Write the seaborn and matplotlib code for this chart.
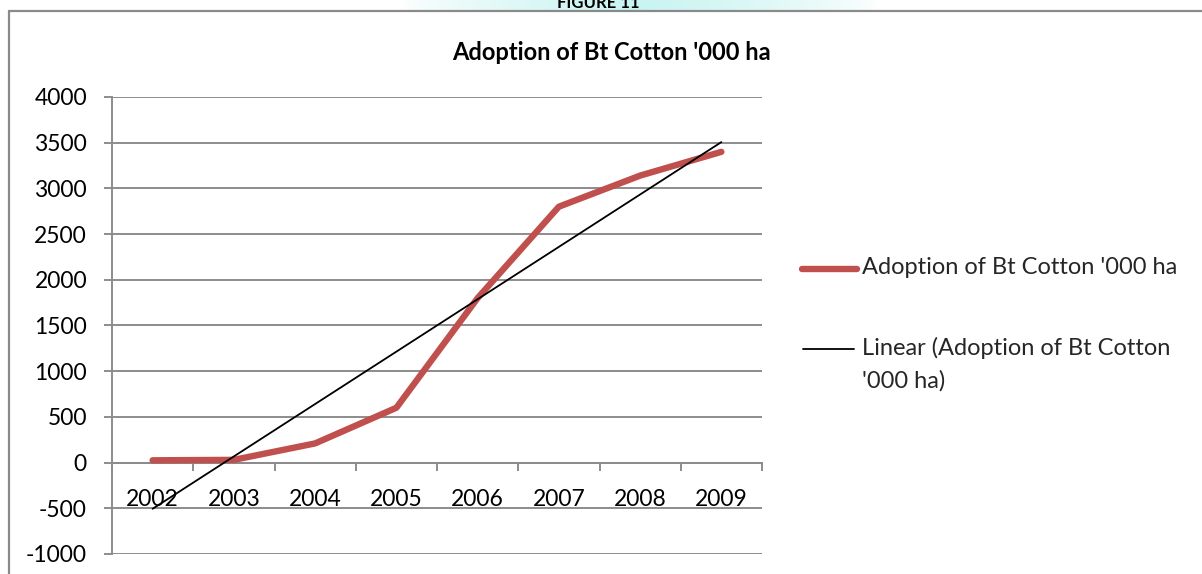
import numpy as np
import pandas as pd
import seaborn as sns
import matplotlib.pyplot as plt
from matplotlib.lines import Line2D
from matplotlib.patches import Rectangle
from matplotlib.colors import LinearSegmentedColormap

# Bt cotton adoption by season, thousand hectares
years = ["2002", "2003", "2004", "2005", "2006", "2007", "2008", "2009"]
adoption = [25, 30, 210, 600, 1800, 2800, 3140, 3400]
y_ticks = [-1000, -500, 0, 500, 1000, 1500, 2000, 2500, 3000, 3500, 4000]

series_name = "Adoption of Bt Cotton '000 ha"
trend_name_1 = "Linear (Adoption of Bt Cotton"
trend_name_2 = "'000 ha)"

RED = "#C0504D"
GRID = "#8C8C8C"

sns.set_theme(style="white")
plt.rcParams["font.family"] = ["Lato", "DejaVu Sans"]

W, H = 1202, 574
fig = plt.figure(figsize=(W / 100, H / 100), dpi=100)


def fx(px):
    return px / W


def fy(py):
    return 1 - py / H


# faint header band and the figure caption above the chart frame
band = fig.add_axes([fx(400), fy(11), fx(480), 11 / H])
grad = np.concatenate([np.linspace(0, 1, 120), np.linspace(1, 0, 120)])[None, :] ** 0.7
band_cmap = LinearSegmentedColormap.from_list("band", ["#FFFFFF", "#C9F4F1"])
band.imshow(grad, aspect="auto", cmap=band_cmap, vmin=0, vmax=1, extent=[0, 1, 0, 1])
band.axis("off")
fig.text(fx(598), fy(3), "FIGURE 11", ha="center", va="center",
         fontsize=12, fontweight="bold", color="black")

# chart frame
fig.add_artist(Rectangle((fx(9), -0.05), 1.2, fy(11) + 0.05, transform=fig.transFigure,
                         fill=False, edgecolor="#8A8A8A", lw=1.6))

ax = fig.add_axes([fx(112), 1 - 554 / H, 650 / W, 457 / H])
df = pd.DataFrame({"pos": np.arange(len(years)), "year": years, "adoption": adoption})

sns.lineplot(data=df, x="pos", y="adoption", color=RED, lw=4.6, ax=ax,
             solid_capstyle="round", solid_joinstyle="round", zorder=3)
sns.regplot(data=df, x="pos", y="adoption", scatter=False, ci=None, truncate=True,
            color="black", line_kws={"lw": 1.3, "zorder": 4}, ax=ax)

ax.set_xlim(-0.5, len(years) - 0.5)
ax.set_ylim(y_ticks[0], y_ticks[-1])
ax.set_yticks(y_ticks)
ax.set_yticklabels([str(v) for v in y_ticks])
ax.set_xticks(np.arange(-0.5, len(years)), labels=[""] * (len(years) + 1))
ax.set_xticks(np.arange(len(years)), labels=years, minor=True)
ax.set_xlabel("")
ax.set_ylabel("")

ax.set_axisbelow(True)
ax.yaxis.grid(True, color=GRID, lw=1.4)
ax.xaxis.grid(False)
for s in ["top", "right"]:
    ax.spines[s].set_visible(False)
ax.spines["left"].set_color(GRID)
ax.spines["left"].set_linewidth(1.4)
ax.spines["bottom"].set_position(("data", 0))
ax.spines["bottom"].set_color(GRID)
ax.spines["bottom"].set_linewidth(1.4)

ax.tick_params(axis="y", which="major", left=True, length=6, width=1.4, color=GRID,
               direction="out", pad=12, labelsize=16.5, labelcolor="black")
ax.tick_params(axis="x", which="major", bottom=True, length=6, width=1.4, color=GRID,
               direction="out")
ax.tick_params(axis="x", which="minor", bottom=True, length=0, pad=19,
               labelsize=16.5, labelcolor="black")

# title of the chart
fig.text(fx(611), fy(53), series_name, ha="center", va="center",
         fontsize=17, fontweight="bold", color="black")

# legend entries on the right
fig.add_artist(Line2D([fx(802), fx(857)], [fy(269), fy(269)], transform=fig.transFigure,
                      color=RED, lw=4.6, solid_capstyle="round"))
fig.text(fx(862), fy(268), series_name, ha="left", va="center", fontsize=17)
fig.add_artist(Line2D([fx(803), fx(854)], [fy(349), fy(349)], transform=fig.transFigure,
                      color="black", lw=1.3))
fig.text(fx(862), fy(348), trend_name_1, ha="left", va="center", fontsize=17)
fig.text(fx(862), fy(381), trend_name_2, ha="left", va="center", fontsize=17)

fig.savefig("out.png", dpi=100)
